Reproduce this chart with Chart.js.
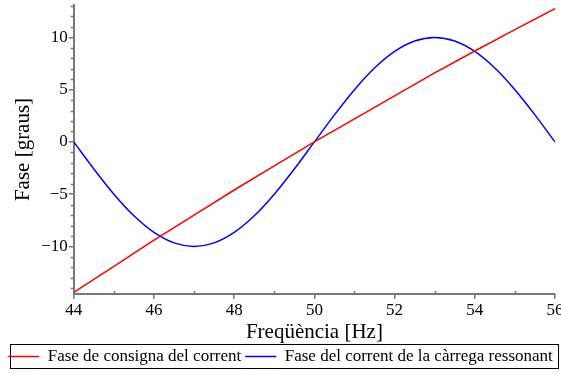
<!DOCTYPE html>
<html>
<head>
<meta charset="utf-8">
<script src="https://cdn.jsdelivr.net/npm/chart.js@4.4.3/dist/chart.umd.min.js"></script>
<style>
  html, body { margin: 0; padding: 0; background: #fff; }
  #wrap { width: 561px; height: 374px; position: relative; }
</style>
</head>
<body>
<div id="wrap"><canvas id="chart"></canvas></div>
<script>
// frequency samples (Hz) and the phases (degrees)
const redFreq = [44, 45, 46, 47, 48, 49, 50, 51, 52, 53, 54, 55, 56];
const redPhase = [-14.4, -11.9, -9.4, -7.0, -4.6, -2.3, 0, 2.2, 4.4, 6.6, 8.7, 10.75, 12.76];

const blueFreq = [44, 44.5, 45, 45.5, 46, 46.5, 47, 47.5, 48, 48.5, 49, 49.5, 50,
    50.5, 51, 51.5, 52, 52.5, 53, 53.5, 54, 54.5, 55, 55.5, 56];
const bluePhase = [0, -2.59, -5, -7.07, -8.66, -9.66, -10, -9.66, -8.66, -7.07, -5, -2.59, 0,
    2.59, 5, 7.07, 8.66, 9.66, 10, 9.66, 8.66, 7.07, 5, 2.59, 0];

const seriesLabels = ['Fase de consigna del corrent', 'Fase del corrent de la càrrega ressonant'];
const xLabelTicks = [44, 46, 48, 50, 52, 54, 56];
const xMinorTicks = [45, 47, 49, 51, 53, 55];
const yLabelTicks = [-10, -5, 0, 5, 10];
const yMinorTicks = [-14, -13, -12, -11, -9, -8, -7, -6, -4, -3, -2, -1, 1, 2, 3, 4, 6, 7, 8, 9, 11, 12, 13];

const serif = "'Liberation Serif', 'Times New Roman', serif";
const axisGrey = '#777777';
Chart.defaults.font.family = serif;

const toPoints = (xs, ys) => xs.map((x, i) => ({ x, y: ys[i] }));

// short minor ticks: x ones point into the plot, y ones stick out left
const minorTicks = {
    id: 'minorTicks',
    afterDraw(chart) {
        const { ctx, chartArea, scales } = chart;
        ctx.save();
        ctx.strokeStyle = axisGrey;
        ctx.lineWidth = 1.5;
        ctx.beginPath();
        for (const v of xMinorTicks) {
            const px = Math.round(scales.x.getPixelForValue(v)) + 0.5;
            ctx.moveTo(px, chartArea.bottom);
            ctx.lineTo(px, chartArea.bottom - 3);
        }
        for (const v of yMinorTicks) {
            const py = Math.round(scales.y.getPixelForValue(v)) + 0.5;
            ctx.moveTo(chartArea.left, py);
            ctx.lineTo(chartArea.left - 3, py);
        }
        ctx.stroke();
        ctx.restore();
    }
};

// box round the legend, like the original
const legendBox = {
    id: 'legendBox',
    afterDraw(chart) {
        const ctx = chart.ctx;
        ctx.save();
        ctx.strokeStyle = '#000';
        ctx.lineWidth = 1;
        ctx.strokeRect(10.5, 344.5, 548, 24);
        ctx.restore();
    }
};

new Chart(document.getElementById('chart'), {
    type: 'line',
    data: {
        datasets: [
            {
                label: seriesLabels[0],
                data: toPoints(redFreq, redPhase),
                borderColor: '#ff0000',
                backgroundColor: '#ff0000',
                borderWidth: 1.5,
                pointRadius: 0,
                tension: 0,
            },
            {
                label: seriesLabels[1],
                data: toPoints(blueFreq, bluePhase),
                borderColor: '#0000ff',
                backgroundColor: '#0000ff',
                borderWidth: 1.5,
                pointRadius: 0,
                cubicInterpolationMode: 'monotone',
            },
        ],
    },
    options: {
        responsive: true,
        maintainAspectRatio: false,
        animation: false,
        layout: { padding: { left: 0, right: 0, top: 5, bottom: -1 } },
        scales: {
            x: {
                type: 'linear',
                min: 44,
                max: 56,
                border: { color: axisGrey, width: 2 },
                grid: { drawOnChartArea: false, color: axisGrey, tickLength: 5, lineWidth: 1.5 },
                afterBuildTicks: (scale) => {
                    scale.ticks = xLabelTicks.map((v) => ({ value: v }));
                },
                afterFit: (scale) => {
                    scale.paddingLeft = 0;
                    scale.paddingRight = 6;
                },
                ticks: {
                    color: '#000',
                    font: { family: serif, size: 17, lineHeight: 1.0 },
                    padding: 3,
                    maxRotation: 0,
                    autoSkip: false,
                },
                title: {
                    display: true,
                    text: 'Freqüència [Hz]',
                    color: '#000',
                    font: { family: serif, size: 21, lineHeight: 1.0 },
                    padding: { top: 0, bottom: 1 },
                },
            },
            y: {
                min: -14.55,
                max: 13.1,
                border: { color: axisGrey, width: 2 },
                grid: { drawOnChartArea: false, color: axisGrey, tickLength: 5, lineWidth: 1.5 },
                afterBuildTicks: (scale) => {
                    scale.ticks = yLabelTicks.map((v) => ({ value: v }));
                },
                afterFit: (scale) => {
                    scale.paddingTop = 0;
                    scale.paddingBottom = 0;
                },
                ticks: {
                    color: '#000',
                    font: { family: serif, size: 17 },
                    padding: 1,
                    autoSkip: false,
                    callback: (v) => String(v).replace('-', '\u2212'),
                },
                title: {
                    display: true,
                    text: 'Fase [graus]',
                    color: '#000',
                    font: { family: serif, size: 21 },
                    padding: { top: 11, bottom: 4 },
                },
            },
        },
        plugins: {
            legend: {
                display: true,
                position: 'bottom',
                labels: {
                    color: '#000',
                    font: { family: serif, size: 17 },
                    usePointStyle: true,
                    pointStyle: 'line',
                    pointStyleWidth: 31,
                    boxHeight: 2,
                    padding: 4,
                },
            },
            tooltip: { enabled: false },
        },
    },
    plugins: [minorTicks, legendBox],
});
</script>
</body>
</html>
